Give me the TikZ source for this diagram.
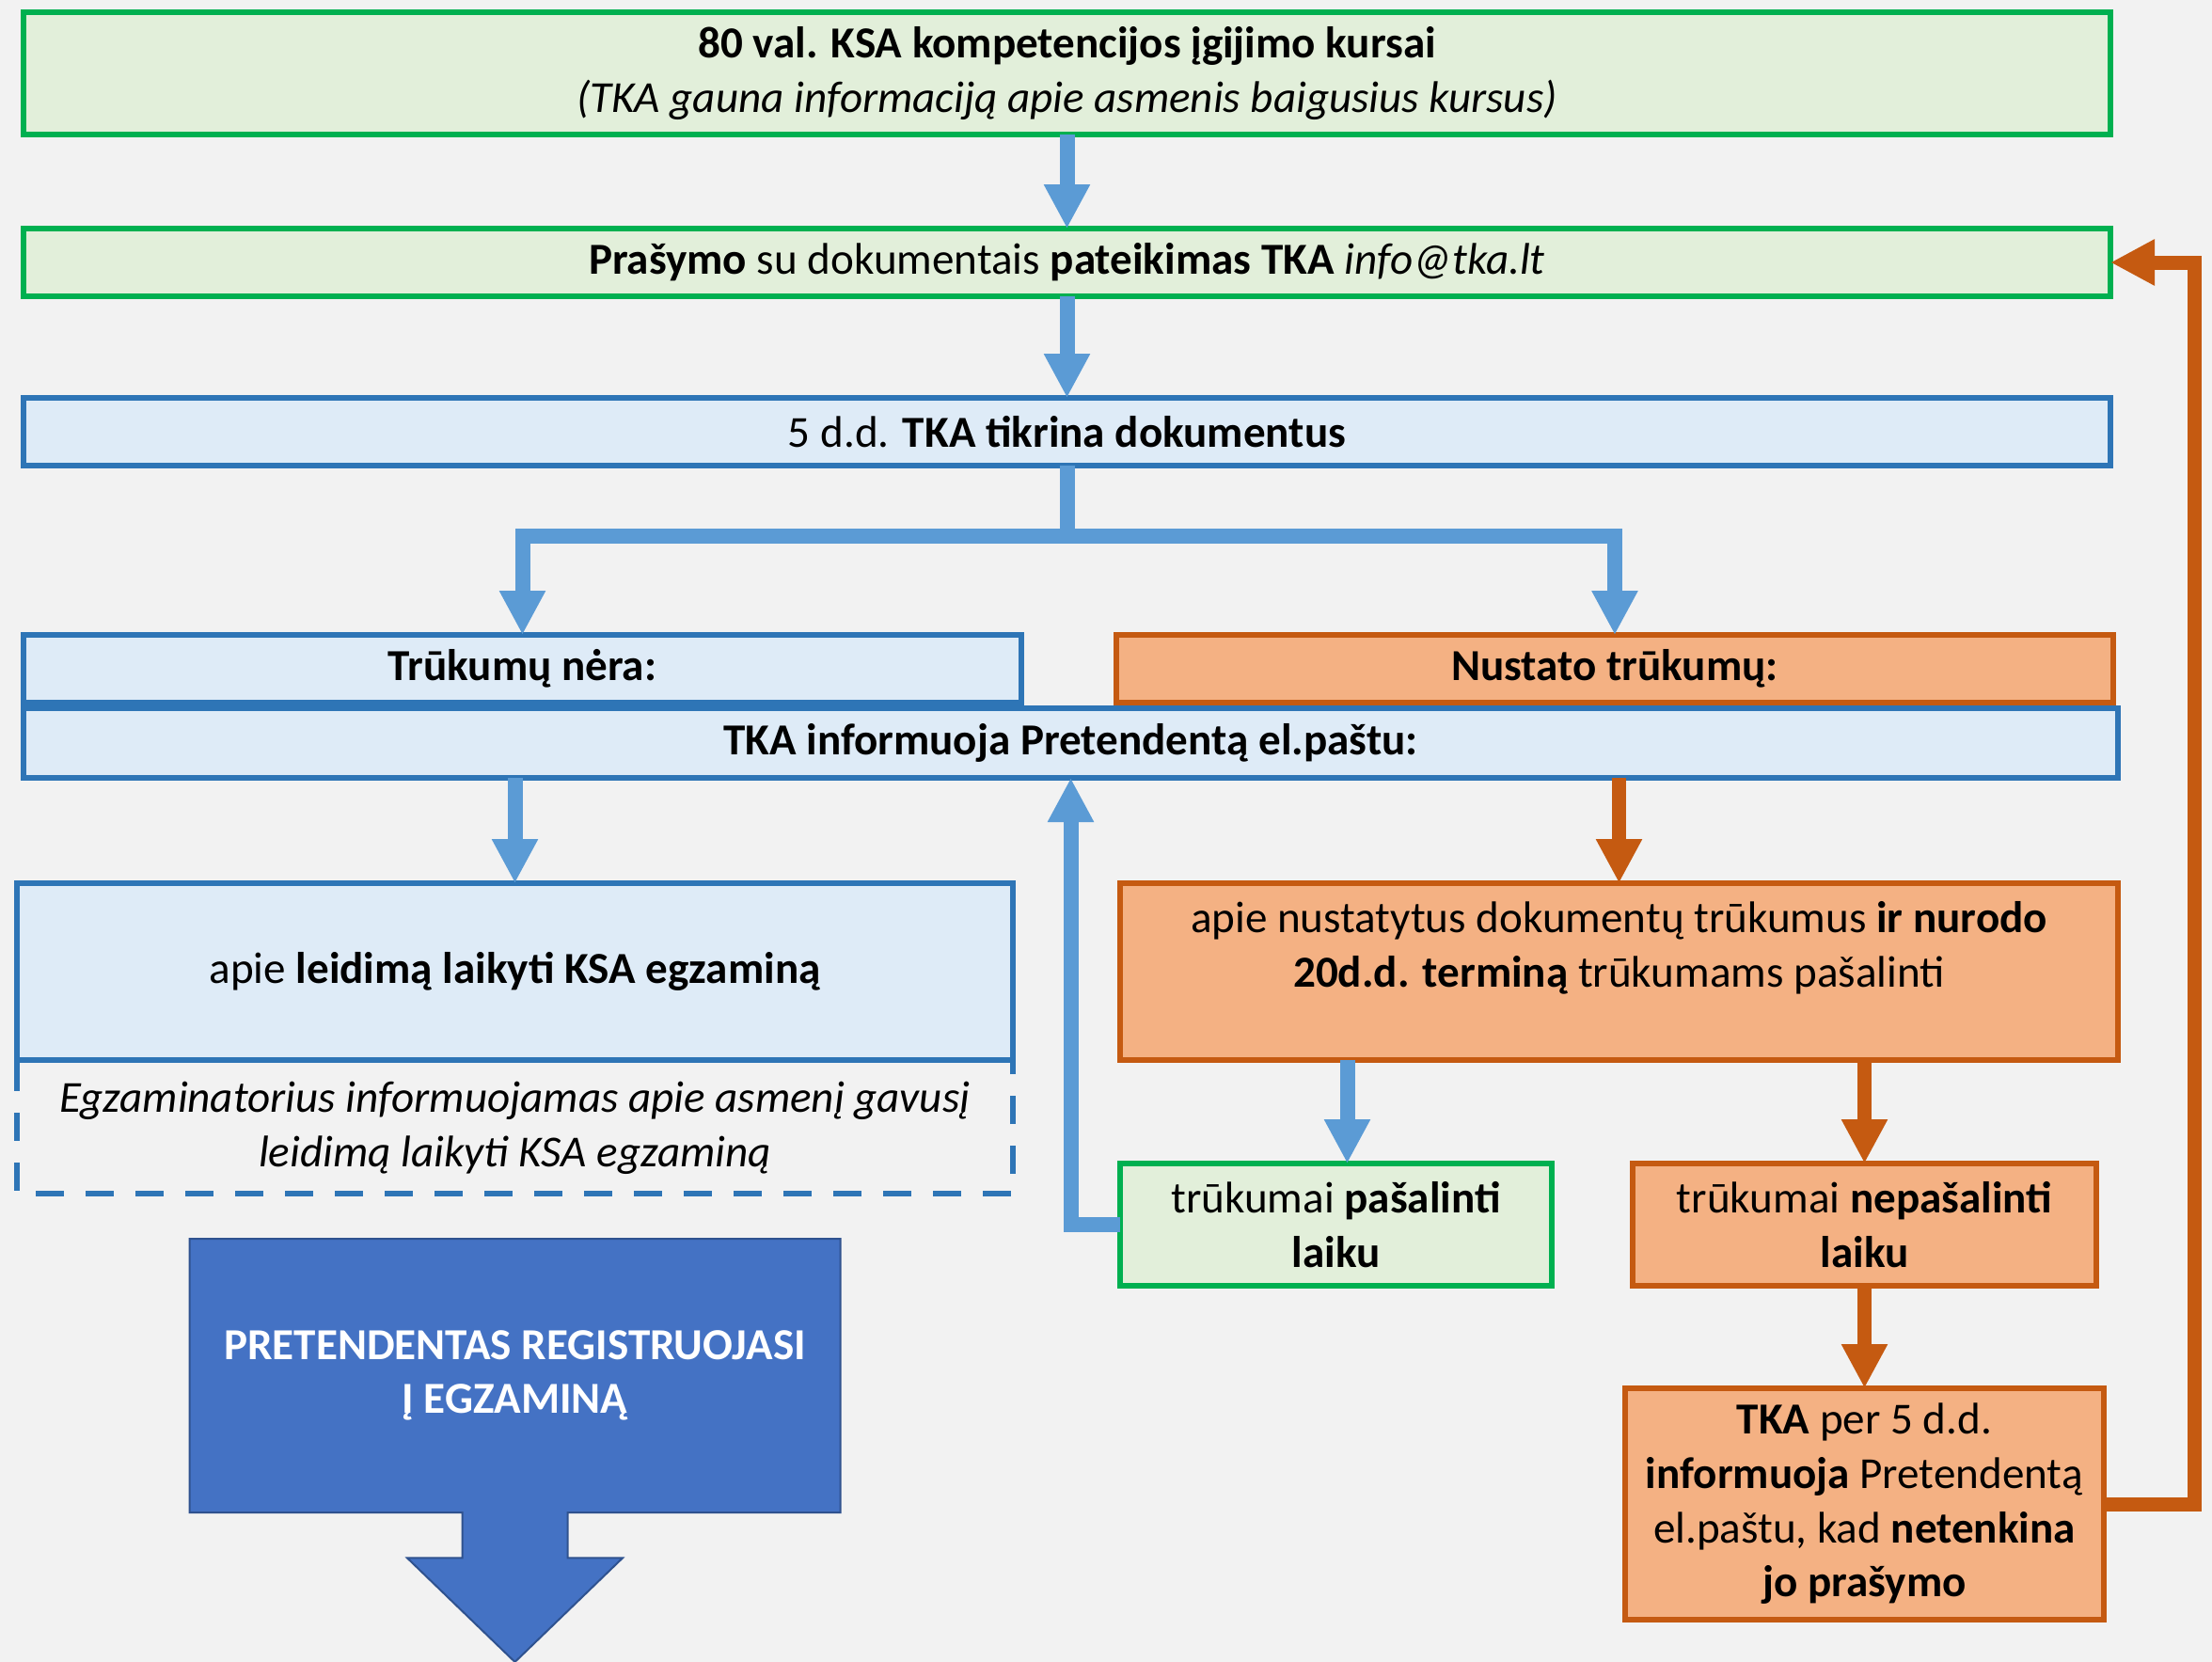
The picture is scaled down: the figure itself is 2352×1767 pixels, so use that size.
\documentclass[tikz,border=0pt]{standalone}
\usepackage{fontspec}
\setmainfont{Carlito}
\usetikzlibrary{positioning,arrows.meta,shapes.arrows}

\definecolor{bgcol}{HTML}{F2F2F2}
\definecolor{grnline}{HTML}{00B050}
\definecolor{grnfill}{HTML}{E2EFDA}
\definecolor{bluline}{HTML}{2E75B6}
\definecolor{blufill}{HTML}{DEEBF7}
\definecolor{orgline}{HTML}{C55A11}
\definecolor{orgfill}{HTML}{F4B183}
\definecolor{conblue}{HTML}{5B9BD5}
\definecolor{regfill}{HTML}{4472C4}
\definecolor{regline}{HTML}{2F528F}

\begin{document}
\begin{tikzpicture}
[x=0.1mm,y=-0.1mm,
 every node/.style={inner sep=0mm,outer sep=0mm,align=center,font=\fontsize{13.4}{16.4}\selectfont},
 box/.style={rectangle,line width=0.65mm,minimum width=221.9mm,minimum height=7.2mm},
 gbox/.style={box,draw=grnline,fill=grnfill},
 bbox/.style={box,draw=bluline,fill=blufill},
 obox/.style={box,draw=orgline,fill=orgfill},
 dbox/.style={rectangle,minimum width=105.9mm,minimum height=13.9mm},
 dline/.style={draw=bluline,line width=0.6mm,dash pattern=on 3mm off 2.3mm},
 reg/.style={arrow box,draw=regline,fill=regfill,line width=0.2mm,text=white,
   font=\fontsize{13.4}{16.4}\selectfont\bfseries,minimum width=69.2mm,minimum height=29.1mm,
   arrow box arrows={south:15.9mm},arrow box shaft width=11.2mm,
   arrow box head extend=5.85mm,arrow box head indent=0mm,arrow box tip angle=92},
 bline/.style={conblue,line width=1.6mm,-{Triangle[width=4.6mm,length=4.7mm]}},
 oline/.style={orgline,line width=1.5mm,-{Triangle[width=4.6mm,length=4.7mm]}}]
\useasboundingbox (0,0) rectangle (2352,1767);
\fill[bgcol] (0,0) rectangle (2352,1767);

\node[gbox,minimum height=13mm] (kursai) at (1134.5,78)
  {\textbf{80 val. KSA kompetencijos įgijimo kursai}\\\textit{(TKA gauna informaciją apie asmenis baigusius kursus)}};
\node[gbox] (prasymas) [on grid,below=20.1mm of kursai]
  {\textbf{Prašymo} su dokumentais \textbf{pateikimas TKA} \textit{info@tka.lt}};
\node[bbox] (tikrina) [on grid,below=18mm of prasymas] {5 d.d. \textbf{TKA tikrina dokumentus}};
\node[bbox,minimum width=106.1mm] (nera)    [on grid,below  left=25.2mm and 57.9mm of tikrina]  {\textbf{Trūkumų nėra:}};
\node[obox,minimum width=106mm]   (nustato) [on grid,below right=25.2mm and 58.25mm of tikrina] {\textbf{Nustato trūkumų:}};
\node[bbox,minimum width=222.7mm,minimum height=7.4mm] (informuoja) [on grid,below right=33.1mm and 0.4mm of tikrina]
  {\textbf{TKA informuoja Pretendentą el.paštu:}};
\node[bbox,minimum width=105.9mm,minimum height=18.8mm] (leidimas) [on grid,below left=32.2mm and 0.8mm of nera]
  {apie \textbf{leidimą laikyti KSA egzaminą}};
\node[dbox] (egzam) [on grid,below=16.65mm of leidimas]
  {\textit{Egzaminatorius informuojamas apie asmenį gavusį}\\\textit{leidimą laikyti KSA egzaminą}};
\node[reg] (registruojasi) [on grid,below=42.95mm of leidimas] {PRETENDENTAS REGISTRUOJASI\\Į EGZAMINĄ};
\node[obox,minimum width=106.1mm,minimum height=18.8mm] (trukumai) [on grid,below right=32.2mm and 0.45mm of nustato]
  {apie nustatytus dokumentų trūkumus \textbf{ir nurodo}\\\textbf{20d.d. terminą} trūkumams pašalinti\\~};
\node[gbox,minimum width=45.9mm,minimum height=13mm] (pasalinti)   [on grid,below  left=26.9mm and 30.1mm of trukumai]
  {trūkumai \textbf{pašalinti}\\\textbf{laiku}};
\node[obox,minimum width=49.3mm,minimum height=13mm] (nepasalinti) [on grid,below right=26.9mm and 26.1mm of trukumai]
  {trūkumai \textbf{nepašalinti}\\\textbf{laiku}};
\node[obox,minimum width=50.9mm,minimum height=24.6mm] (netenkina) [on grid,below=29.7mm of nepasalinti]
  {\textbf{TKA} per 5 d.d.\\\textbf{informuoja} Pretendentą\\el.paštu, kad \textbf{netenkina}\\\textbf{jo prašymo}};

\draw[dline] (egzam.north west) -- (egzam.south west) -- (egzam.south east) -- (egzam.north east);

\path (tikrina.south) ++(0,-7.5mm) coordinate (split);
\draw[bline] (kursai) -- (prasymas);
\draw[bline] (prasymas) -- (tikrina);
\draw[bline,-] (tikrina) -- (split);
\draw[bline] (split) -| (nera);
\draw[bline] (split) -| (nustato);
\draw[bline] (leidimas.north |- informuoja.south) -- (leidimas);
\draw[oline] (trukumai.north |- informuoja.south) -- (trukumai);
\draw[bline] ([xshift=1.2mm]pasalinti.north |- trukumai.south) -- ([xshift=1.2mm]pasalinti.north);
\draw[oline] (nepasalinti.north |- trukumai.south) -- (nepasalinti);
\draw[oline] (nepasalinti) -- (netenkina);
\draw[bline] (pasalinti) -| (informuoja);
\draw[oline] (netenkina.east) -- ++(9.6mm,0) |- (prasymas);
\end{tikzpicture}
\end{document}
